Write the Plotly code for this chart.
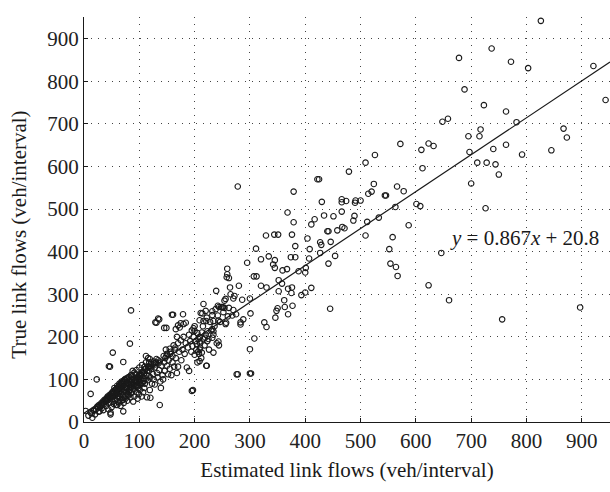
import plotly.graph_objects as go

# Scatter data (estimated link flows vs true link flows)
est_sparse = [826, 737, 678, 772, 921, 803, 943, 688, 723, 763, 782, 648, 658, 867, 873, 717, 715, 695, 697,
              763, 740, 845, 792, 572, 623, 632, 610, 612, 711, 728, 744, 750, 700, 726, 526, 509, 479, 601,
              608, 587, 563, 566, 578, 544, 546, 524, 520, 514, 500, 491, 490, 512, 509, 533, 558, 552, 554,
              564, 567, 646, 623, 660, 897, 756, 489, 487, 466, 466, 474, 466, 467, 471, 458, 451, 440, 442,
              446, 454, 442, 445, 430, 434, 422, 425, 417, 411, 404, 427, 429, 427, 408, 407, 411, 400, 393,
              401, 400, 388, 379, 379, 376, 382, 382, 374, 368, 376, 377, 367, 369, 375, 369, 359, 358, 362,
              363, 352, 352, 350, 348, 346, 345, 345, 342, 351, 344, 329, 334, 311, 307, 312, 320, 320, 330,
              295, 278, 276, 300, 300, 308, 300, 301, 326, 330, 288, 283, 283, 275, 272, 280, 286, 259, 259,
              262, 264, 256, 239, 242, 251, 254, 270, 257, 243, 234, 232, 232, 234, 223, 219, 232, 243, 244,
              234, 223, 216, 220, 214, 211, 221, 216, 209, 198, 200, 205, 209, 209, 204, 210, 209, 206, 213,
              209, 221, 222, 195, 179, 184, 175, 170, 166, 159, 145, 134, 129, 85, 83, 71, 52, 23, 12, 3,
              137, 45, 47, 131, 136, 161, 149, 197, 278, 302]
true_sparse = [942, 877, 855, 846, 836, 831, 756, 781, 744, 729, 704, 705, 712, 689, 668, 687, 671, 671, 634,
               651, 641, 638, 628, 653, 654, 648, 639, 596, 609, 609, 605, 581, 560, 502, 627, 609, 588, 512,
               507, 462, 505, 553, 542, 532, 532, 559, 541, 536, 520, 520, 515, 470, 438, 480, 434, 406, 372,
               364, 343, 397, 321, 286, 269, 241, 484, 473, 523, 516, 519, 494, 458, 455, 450, 483, 448, 448,
               423, 390, 372, 266, 517, 485, 570, 570, 476, 464, 431, 422, 416, 397, 406, 384, 315, 304, 298,
               362, 351, 354, 541, 469, 440, 413, 387, 387, 492, 316, 273, 359, 313, 303, 253, 356, 325, 286,
               270, 333, 307, 267, 261, 245, 380, 362, 370, 440, 440, 438, 389, 407, 342, 342, 382, 320, 316,
               374, 553, 112, 114, 171, 196, 290, 255, 234, 223, 241, 234, 229, 253, 296, 320, 287, 360, 347,
               338, 316, 289, 308, 273, 269, 268, 263, 233, 238, 237, 251, 218, 213, 213, 198, 198, 189, 180,
               163, 190, 277, 261, 255, 256, 237, 237, 239, 220, 214, 209, 200, 189, 183, 175, 170, 165, 163,
               143, 132, 132, 73, 253, 233, 232, 227, 218, 252, 221, 243, 234, 262, 184, 141, 163, 100, 66, 26,
               40, 131, 130, 233, 241, 252, 221, 75, 112, 114]

est_dense = [8, 12, 15, 18, 20, 22, 25, 28, 30, 32, 35, 35, 38, 40, 42, 44, 45, 46, 48, 48, 50, 50, 52, 52,
             54, 55, 55, 56, 57, 58, 58, 60, 60, 62, 62, 63, 64, 65, 66, 66, 67, 68, 68, 70, 70, 71, 72, 72,
             73, 74, 75, 75, 76, 77, 78, 78, 80, 80, 81, 82, 83, 84, 85, 85, 86, 87, 88, 88, 89, 90, 90, 91,
             92, 93, 94, 95, 95, 96, 97, 98, 98, 99, 100, 100, 101, 102, 103, 104, 105, 106, 107, 108, 109,
             110, 110, 112, 113, 114, 115, 116, 117, 118, 119, 120, 120, 122, 123, 124, 125, 126, 128, 128,
             130, 132, 133, 135, 136, 138, 139, 140, 142, 143, 145, 146, 147, 148, 150, 150, 152, 153, 155,
             155, 157, 158, 160, 160, 162, 163, 165, 166, 168, 168, 170, 170, 172, 173, 175, 176, 178, 180,
             180, 182, 184, 186, 188, 190, 190, 192, 194, 195, 196, 198, 200, 200, 202, 203, 205, 207, 208,
             210, 212, 213, 215, 216, 218, 220, 222, 225, 226, 228, 230, 232, 234, 236, 238, 240, 242, 244,
             246, 248, 250, 252, 254, 256, 258, 260, 262, 265, 268, 270,
             36, 40, 43, 47, 51, 53, 59, 61, 64, 69, 74, 79, 84, 92, 96, 102, 106, 111, 118, 127, 134, 144,
             30, 33, 39, 44, 49, 57, 63, 67, 76, 82, 86, 93, 99, 104, 109, 114, 121, 129, 137, 149, 156, 164,
             14, 17, 21, 24, 27, 31, 34, 37, 41, 43, 46, 49, 51, 53, 56, 59, 61, 63, 65, 67, 69, 71, 73, 76,
             79, 81, 83, 86, 89, 91, 94, 97, 101, 103, 107, 111, 116, 121, 126, 131,
             26, 29, 34, 38, 42, 47, 52, 55, 58, 62, 65, 68, 72, 75, 78, 82, 87, 91, 95, 100, 105, 112, 119,
             60, 64, 70, 74, 80, 85, 90, 95, 100, 104, 108, 113, 117, 123]
true_dense = [15, 22, 10, 28, 18, 30, 35, 25, 40, 32, 45, 28, 50, 38, 55, 30, 45, 60, 22, 18, 50, 35, 70, 58,
              42, 80, 62, 50, 75, 40, 68, 55, 85, 62, 48, 72, 90, 58, 66, 38, 80, 50, 95, 70, 60, 25, 85, 45,
              75, 100, 62, 55, 90, 70, 80, 50, 105, 65, 88, 75, 95, 58, 110, 82, 68, 100, 120, 90, 48, 78, 102,
              60, 95, 85, 112, 70, 100, 88, 55, 105, 80, 65, 95, 110, 75, 100, 88, 60, 115, 92, 70, 102, 80,
              90, 130, 155, 110, 58, 98, 150, 120, 140, 75, 105, 57, 125, 90, 135, 112, 100, 88, 128, 140, 115,
              105, 138, 122, 95, 80, 132, 110, 100, 140, 120, 150, 170, 160, 132, 112, 145, 172, 125, 165, 110,
              155, 140, 180, 130, 175, 150, 200, 115, 185, 130, 165, 222, 192, 145, 170, 200, 230, 160, 185,
              128, 175, 205, 120, 190, 165, 215, 178, 200, 225, 158, 190, 170, 140, 195, 160, 185, 150, 210,
              225, 195, 180, 205, 245, 195, 170, 235, 215, 260, 205, 225, 265, 185, 250, 270, 235, 270, 270,
              258, 285, 230, 340, 248, 268, 300, 250, 290,
              42, 48, 52, 57, 62, 66, 70, 75, 72, 78, 82, 90, 92, 98, 104, 112, 118, 125, 130, 138, 145, 155,
              38, 44, 48, 52, 58, 64, 68, 74, 80, 86, 93, 98, 102, 110, 115, 120, 128, 135, 142, 155, 160, 170,
              20, 26, 30, 36, 40, 44, 48, 52, 56, 60, 63, 66, 69, 72, 75, 78, 81, 84, 87, 90, 93, 96, 99, 102,
              64, 70, 76, 82, 88, 94, 98, 104, 108, 112, 118, 124, 130, 136, 142, 148,
              24, 34, 44, 50, 56, 60, 66, 70, 76, 80, 84, 88, 94, 98, 102, 106, 110, 116, 122, 128, 134, 140,
              148, 40, 46, 52, 58, 62, 68, 76, 82, 86, 92, 96, 102, 108]

slope = 0.867
intercept = 20.8
x_range = [0, 951]
y_range = [0, 951]
ticks = [0, 100, 200, 300, 400, 500, 600, 700, 800, 900]

est = est_sparse + est_dense
true = true_sparse + true_dense

FONT = "Liberation Serif"
INK = "#1a1a1a"

fig = go.Figure()
fig.add_trace(go.Scatter(
    x=est, y=true, mode="markers",
    marker=dict(symbol="circle-open", size=5.5, color=INK, line=dict(width=1.1, color=INK)),
    showlegend=False, hoverinfo="skip"))
fig.add_trace(go.Scatter(
    x=x_range, y=[slope * v + intercept for v in x_range], mode="lines",
    line=dict(color=INK, width=1.2), showlegend=False, hoverinfo="skip"))

fig.add_annotation(
    x=935, y=433, xref="x", yref="y", xanchor="right", yanchor="middle",
    text="<i>y</i> = 0.867<i>x</i> + 20.8", showarrow=False,
    font=dict(family=FONT, size=21, color=INK))

# y-axis title placed as rotated text (slightly below plot centre, as in the reference)
fig.add_annotation(
    x=-0.124, y=0.462, xref="paper", yref="paper", xanchor="center", yanchor="middle",
    text="True link flows (veh/interval)", textangle=-90, showarrow=False,
    font=dict(family=FONT, size=21, color=INK))

axis_common = dict(
    showline=True, linecolor=INK, linewidth=1.2, mirror=False,
    showgrid=True, gridcolor="#444444", gridwidth=1, griddash="1px,6px",
    zeroline=False, ticks="inside", ticklen=4, tickwidth=1, tickcolor=INK, tickvals=ticks,
    tickfont=dict(family=FONT, size=21, color="#222222"),
)

fig.update_xaxes(range=x_range, title=dict(text="Estimated link flows (veh/interval)",
                 font=dict(family=FONT, size=21, color=INK), standoff=10), **axis_common)
fig.update_yaxes(range=y_range, **axis_common)

fig.update_layout(
    width=610, height=492,
    margin=dict(l=84, r=0, t=17, b=70),
    paper_bgcolor="white", plot_bgcolor="white",
    font=dict(family=FONT, color=INK),
)

fig.write_html("out.html")
